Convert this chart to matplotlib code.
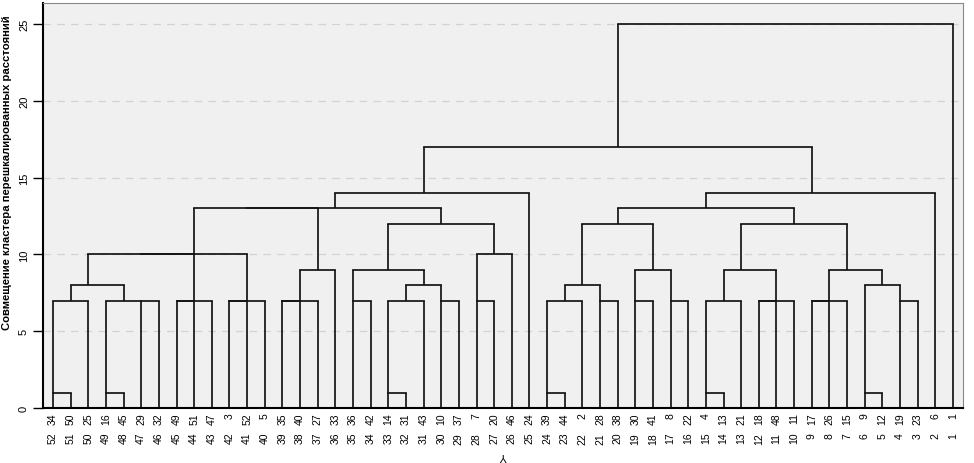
import matplotlib
matplotlib.use("Agg")
import matplotlib.pyplot as plt

plt.rcParams['font.family'] = ['Liberation Sans', 'DejaVu Sans']

# case labels along the bottom, in dendrogram order
leaf_labels = [34, 50, 25, 16, 45, 29, 32, 49, 51, 47, 3, 52, 5, 35, 40, 27, 33, 36, 42, 14,
               31, 43, 10, 37, 7, 20, 46, 24, 39, 44, 2, 28, 38, 30, 41, 8, 22, 4, 13, 21,
               18, 48, 11, 17, 26, 15, 9, 12, 19, 23, 6, 1]
# second row of labels (values of variable Y)
y_values = list(range(52, 0, -1))

# merges: leaves are 0..51 (position in order), new clusters get ids 52, 53, ...
merge_a = [0, 3, 19, 28, 37, 46, 52, 5, 53, 7, 61, 10, 63, 13, 65, 17, 54, 22, 24, 55,
           31, 33, 35, 56, 40, 76, 43, 78, 48, 58, 68, 71, 57, 66, 67, 73, 75, 79, 81, 90,
           70, 86, 83, 88, 91, 96, 94, 97, 98, 99, 101]
merge_b = [1, 4, 20, 29, 38, 47, 2, 6, 59, 8, 9, 11, 12, 14, 15, 18, 21, 23, 25, 30,
           32, 34, 36, 39, 41, 42, 44, 45, 49, 60, 69, 72, 80, 16, 82, 74, 77, 84, 62, 64,
           26, 92, 87, 89, 85, 93, 95, 27, 50, 100, 51]
merge_h = [1, 1, 1, 1, 1, 1, 7, 7, 7, 7, 7, 7, 7, 7, 7, 7, 7, 7, 7, 7,
           7, 7, 7, 7, 7, 7, 7, 7, 7, 8, 8, 8, 8, 9, 9, 9, 9, 9, 10, 10,
           10, 12, 12, 12, 13, 13, 13, 14, 14, 17, 25]

n = len(leaf_labels)
pos = list(range(n))
height = [0] * n

fig = plt.figure(figsize=(9.74, 4.64), dpi=100)
ax = fig.add_axes([0.0441, 0.1179, 0.9446, 0.8735])
ax.set_facecolor("#f0f0f0")

lc = "#141414"
for a, b, h in zip(merge_a, merge_b, merge_h):
    ax.plot([pos[a], pos[a]], [height[a], h], color=lc, lw=1.25, solid_capstyle="butt")
    ax.plot([pos[b], pos[b]], [height[b], h], color=lc, lw=1.25, solid_capstyle="butt")
    ax.plot([pos[a], pos[b]], [h, h], color=lc, lw=1.25, solid_capstyle="projecting")
    pos.append((pos[a] + pos[b]) // 2)
    height.append(h)

for g in [5, 10, 15, 20, 25]:
    ax.axhline(g, color="#d2d2d2", lw=0.9, ls=(0, (6, 5)), zorder=0)

ax.set_xlim(-0.57, n - 1 + 0.57)
ax.set_ylim(0, 26.35)
ax.set_yticks([0, 5, 10, 15, 20, 25])
ax.set_yticklabels(["0", "5", "10", "15", "20", "25"], rotation=90, va="center", fontsize=8)
ax.tick_params(axis="y", length=7, width=1, pad=3)
ax.set_xticks(range(n))
ax.set_xticklabels([str(v) for v in leaf_labels], rotation=90, fontsize=7.5)
ax.tick_params(axis="x", length=0, pad=3)

for i, v in enumerate(y_values):
    ax.text(i, -0.058, str(v), transform=ax.get_xaxis_transform(), rotation=90,
            ha="center", va="top", fontsize=7.5)

ax.spines["left"].set_linewidth(1.5)
ax.spines["bottom"].set_linewidth(1.5)
ax.spines["top"].set_color("#888888")
ax.spines["right"].set_color("#888888")

ax.set_ylabel("Совмещение кластера перешкалированных расстояний", fontsize=8.1,
              fontweight="bold")
ax.yaxis.set_label_coords(-0.034, 0.585)
fig.text(0.516, 0.018, "Y", rotation=180, ha="center", va="center", fontsize=8)

plt.savefig("out.png", dpi=100)
